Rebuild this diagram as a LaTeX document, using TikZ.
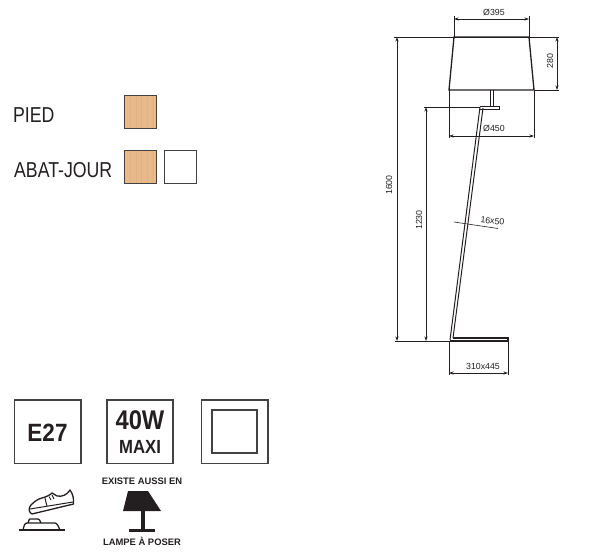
\documentclass[tikz,border=0pt]{standalone}
\usepackage{fontspec}
\setmainfont{Liberation Sans}
\usetikzlibrary{arrows.meta}
\definecolor{wood}{HTML}{E8B98C}
\definecolor{ink}{HTML}{231F20}

\begin{document}
\begin{tikzpicture}[x=1pt,y=-1pt,
    dim/.style={line width=0.7pt,{Stealth[length=4.5pt,width=3pt]}-{Stealth[length=4.5pt,width=3pt]},color=ink},
    ext/.style={line width=0.6pt,color=ink},
    body/.style={line width=1.3pt,color=ink},
    dimtext/.style={font=\fontsize{8.8}{9}\selectfont,color=ink,inner sep=0pt},
    swatch/.style={draw=ink!85,line width=1pt},
    iconbox/.style={draw=ink!85,line width=1.1pt},
    legend/.style={font=\fontsize{21.6}{22}\selectfont,color=ink,inner sep=0pt,xscale=0.82,anchor=west},
    smalllabel/.style={font=\bfseries\fontsize{9.4}{10}\selectfont,color=ink,inner sep=0pt},
    iconline/.style={color=ink,line width=1.3pt,line join=round}]
    \useasboundingbox (0,0) rectangle (600,553);

    % finishes
    \node[legend] (pied) at (13,115) {PIED};
    \node[legend] (abat) at (14,170) {ABAT-JOUR};
    \fill[wood] (124,96) rectangle (156,129);
    \fill[wood] (124,151) rectangle (156,184);
    \foreach \x in {130,136,141,147,152}{
        \draw[wood!88!brown,line width=1pt] (\x,96) -- (\x,129);
        \draw[wood!88!brown,line width=1pt] (\x,151) -- (\x,184);
    }
    \draw[swatch] (124,96) rectangle (156,129);
    \draw[swatch] (124,151) rectangle (156,184);
    \draw[swatch] (164,151) rectangle (196,184);

    % lamp
    \draw[body] (454,37) -- (529,37) -- (534,90) -- (449,90) -- cycle;
    \draw[body,line width=1pt] (490,90) -- (490,107) (493,90) -- (493,107);
    \draw[body,line width=1pt] (480,107) -- (499,107) -- (499,109.5) -- (479.5,109.5);
    \draw[body,line width=1pt] (480,107) -- (450,340) (483,108) -- (453,338);
    \draw[body] (450,341) -- (508,341) -- (508,338) -- (453,338);

    % dimensions
    \draw[ext] (454,37) -- (454,16) (529,37) -- (529,16);
    \draw[dim] (454,19) -- (529,19);
    \node[dimtext] (d395) at (494,12) {Ø395};
    \draw[ext] (394,37) -- (559,37) (534,90) -- (559,90);
    \draw[dim] (557,37) -- (557,90);
    \node[dimtext,rotate=90] (d280) at (550,61) {280};
    \draw[ext] (449,90) -- (449,138) (534,90) -- (534,138);
    \draw[dim] (449,136) -- (534,136);
    \node[dimtext] (d450) at (494,128) {Ø450};
    \draw[ext] (424,107) -- (480,107);
    \draw[ext] (395,341) -- (450,341);
    \draw[dim] (397,37) -- (397,341);
    \node[dimtext,rotate=90] (d1600) at (389,185) {1600};
    \draw[dim] (426,107) -- (426,341);
    \node[dimtext,rotate=90] (d1230) at (419,220) {1230};
    \draw[ext] (454,222) -- (498,228.5);
    \node[dimtext,rotate=-6] (d16) at (492.5,221) {16x50};
    \draw[ext] (449,341) -- (449,375) (508,341) -- (508,375);
    \draw[dim] (449,373) -- (508,373);
    \node[dimtext] (d310) at (483,366) {310x445};

    % icons
    \draw[iconbox] (14.5,400) rectangle (81,463.5);
    \draw[iconbox] (107,400) rectangle (173,463.5);
    \draw[iconbox] (201.5,400) rectangle (268,463.5);
    \draw[iconbox] (212,410) rectangle (257,453);
    \node[font=\bfseries\fontsize{25}{25}\selectfont,color=ink,inner sep=0pt,xscale=0.9] (e27) at (47.5,433) {E27};
    \node[font=\bfseries\fontsize{27}{27}\selectfont,color=ink,inner sep=0pt,xscale=0.88] (w40) at (140,420) {40W};
    \node[font=\bfseries\fontsize{19}{19}\selectfont,color=ink,inner sep=0pt,xscale=0.88] (maxi) at (140,447) {MAXI};
    \node[smalllabel] (existe) at (142,481) {EXISTE AUSSI EN};
    \node[smalllabel] (poser) at (142,541) {LAMPE À POSER};

    % table lamp
    \fill[ink] (128,491) -- (148,491) -- (161,511) -- (123,511) -- cycle;
    \fill[ink] (140.5,511) rectangle (144.5,530);
    \fill[ink] (129,529) rectangle (155,531.5);

    % shoe on foot switch
    \draw[iconline] (19,530) -- (65,530);
    \draw[iconline] (23,530) .. controls (24,526) and (24.5,523) .. (27,523) -- (55,523) .. controls (57,523) and (59,527) .. (60,530);
    \draw[iconline] (28,523) -- (29,520) .. controls (29,519) and (30,519) .. (31,519) -- (38,519) .. controls (39,519) and (40,520) .. (41,523);
    \draw[iconline] (32,514) .. controls (29,513) and (28,508) .. (31,505) .. controls (35,501) and (38,499) .. (42,498) .. controls (46,497) and (50,495) .. (52,493) -- (57,496) .. controls (62,497) and (67,495) .. (70,490) .. controls (73,494) and (74,499) .. (73.5,504) -- cycle;
    \draw[iconline,line width=1pt] (30,509) -- (73,502);
    \draw[iconline,line width=1pt] (45,498) .. controls (46,501) and (46,504) .. (47,506);
    \draw[iconline,line width=0.9pt] (49,496.5) -- (51,500) (52,495) -- (54,499);
\end{tikzpicture}
\end{document}
